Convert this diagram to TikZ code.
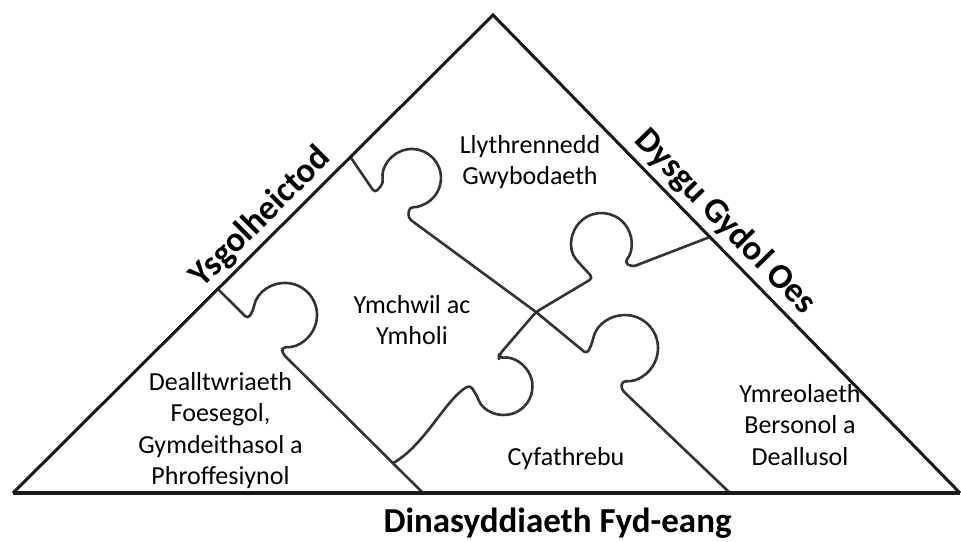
\documentclass[tikz,border=0pt]{standalone}
\usepackage{fontspec}
\setmainfont{Carlito}
\usetikzlibrary{calc}
\begin{document}
\begin{tikzpicture}[x=1pt,y=-1pt,
  outline/.style={line width=3pt, draw=black!90, line join=miter},
  groundline/.style={line width=3.8pt, draw=black!90},
  piece/.style={line width=2.6pt, draw=black!80, rounded corners=4pt, line join=round},
  lbl/.style={font=\fontsize{26}{31.5}\selectfont, inner sep=0pt, anchor=base},
  sidelbl/.style={font=\fontsize{35}{42}\selectfont\bfseries, inner sep=0pt, anchor=base}]

\fill[white] (0,0) rectangle (961,541);
\useasboundingbox (0,0) rectangle (961,541);

% corners of the triangle
\coordinate (L) at (13,493);
\coordinate (T) at (493,15);
\coordinate (R) at (960,493);

% where the piece edges meet the triangle and each other
\coordinate (A0) at ($(L)!0.703!(T)$);
\coordinate (B0) at ($(L)!0.4268!(T)$);
\coordinate (C1) at ($(T)!0.4644!(R)$);
\coordinate (A1) at (730,493);
\coordinate (B1) at (423,493);
\coordinate (X) at (536,312);
\coordinate (Bn) at (282,353);
\coordinate (CB) at ($(Bn)!0.787!(B1)$);

% piece edges
\draw[piece] (A0) -- (375,193) -- (383.4,183)
  arc[start angle=170, end angle=455, radius=29] -- (408,218) -- (X)
  -- (587,354) -- (592.5,342.3)
  arc[start angle=190, end angle=455, radius=33] -- (621,389) -- (A1);
\draw[piece] (B0) -- (248,319) -- (253.5,309.4)
  arc[start angle=190, end angle=455, radius=32] -- (Bn) -- (B1);
\draw[piece] (CB) .. controls (425,445) and (445,400) .. (470,385)
  -- (477.2,396.2) arc[start angle=160, end angle=-100, radius=28.5]
  -- (499,355) -- (X) -- (593,278) -- (578.5,262.3)
  arc[start angle=140, end angle=400, radius=30] -- (632,267) -- (C1);

% triangle
\draw[outline] (L) -- (T) -- (R);
\draw[groundline] (L) -- (R);

% piece labels
\node[lbl] (llyth) at (530,153) {\begin{tabular}[t]{@{}c@{}}Llythrennedd\\Gwybodaeth\end{tabular}};
\node[lbl] (ymch) at (412,313) {\begin{tabular}[t]{@{}c@{}}Ymchwil ac\\Ymholi\end{tabular}};
\node[lbl] (deall) at (220.5,390) {\begin{tabular}[t]{@{}c@{}}Dealltwriaeth\\Foesegol,\\Gymdeithasol a\\Phroffesiynol\end{tabular}};
\node[lbl] (cyfa) at (566,465) {Cyfathrebu};
\node[lbl] (ymre) at (800,402) {\begin{tabular}[t]{@{}c@{}}Ymreolaeth\\Bersonol a\\Deallusol\end{tabular}};

% side labels
\node[sidelbl, rotate=44.9] (ysgol) at (267.5,224) {Ysgolheictod};
\node[sidelbl, rotate=-45.7] (dysgu) at (718.3,228.6) {Dysgu Gydol Oes};
\node[sidelbl] (dinas) at (557.5,532) {Dinasyddiaeth Fyd-eang};
\end{tikzpicture}
\end{document}
